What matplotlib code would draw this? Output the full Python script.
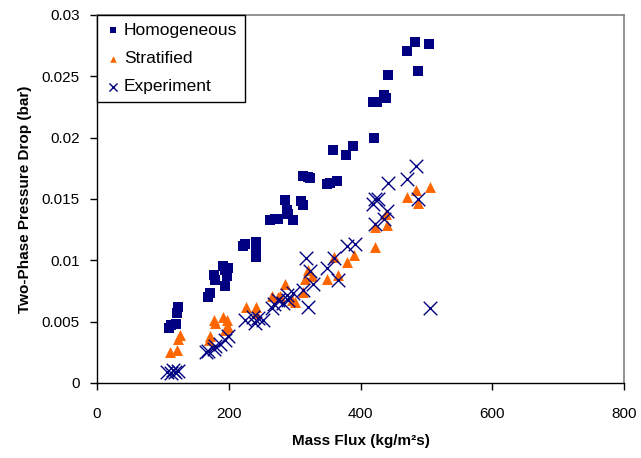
import matplotlib
matplotlib.use("Agg")
import matplotlib.pyplot as plt

plt.rcParams['font.family'] = ['Liberation Sans', 'DejaVu Sans']

# Homogeneous model
homo_x = [110, 112, 120, 122, 123,
          169, 171, 177, 179, 192, 194, 199, 197, 194,
          225, 222, 242, 241, 242,
          263, 270, 275, 285, 288, 290, 298, 310, 313,
          313, 320, 323, 349, 354, 365,
          359, 378, 389, 421,
          419, 425, 436, 439, 441,
          470, 483, 504, 487]
homo_y = [0.0045, 0.0047, 0.0048, 0.0057, 0.0062,
          0.0070, 0.0073, 0.0088, 0.0084, 0.0095, 0.0092, 0.0094, 0.0087, 0.0079,
          0.0113, 0.0112, 0.0115, 0.0103, 0.0111,
          0.0133, 0.0134, 0.0134, 0.0149, 0.0141, 0.0138, 0.0133, 0.0148, 0.0145,
          0.0169, 0.0168, 0.0167, 0.0162, 0.0163, 0.0165,
          0.0190, 0.0186, 0.0193, 0.0200,
          0.0229, 0.0229, 0.0235, 0.0232, 0.0251,
          0.0271, 0.0278, 0.0276, 0.0254]

# Stratified model
strat_x = [111, 122, 123, 126,
           170, 172, 179, 178, 192, 197, 199, 194,
           226, 242, 242,
           265, 275, 278, 285, 296, 301,
           313, 316, 321, 326,
           349, 360, 366, 379, 390,
           422, 422, 439, 440,
           471, 484, 488, 505]
strat_y = [0.0025, 0.0027, 0.0036, 0.0039,
           0.0035, 0.0038, 0.0049, 0.0051, 0.0054, 0.0051, 0.0046, 0.0043,
           0.0062, 0.0062, 0.0057,
           0.0071, 0.0070, 0.0071, 0.0081, 0.0068, 0.0066,
           0.0074, 0.0085, 0.0092, 0.0087,
           0.0085, 0.0103, 0.0088, 0.0099, 0.0104,
           0.0111, 0.0127, 0.0138, 0.0129,
           0.0152, 0.0157, 0.0147, 0.0160]

# Experiment
exp_x = [106, 112, 116, 118, 123,
         166, 169, 177, 179, 187, 194, 199,
         225, 237, 240, 245,
         252, 265, 268, 275, 283, 288, 290, 298,
         313, 317, 321, 323, 328,
         349, 360, 366, 380, 391,
         419, 422, 422, 426, 435, 440, 442,
         471, 484, 488, 506]
exp_y = [0.0009, 0.0008, 0.0011, 0.0009, 0.0010,
         0.0025, 0.0026, 0.0028, 0.0030, 0.0032, 0.0035, 0.0038,
         0.0051, 0.0054, 0.0049, 0.0053,
         0.0051, 0.0061, 0.0064, 0.0068, 0.0065, 0.0072, 0.0068, 0.0073,
         0.0076, 0.0102, 0.0062, 0.0091, 0.0081,
         0.0094, 0.0102, 0.0084, 0.0112, 0.0113,
         0.0146, 0.0150, 0.0130, 0.0150, 0.0134, 0.0140, 0.0163,
         0.0166, 0.0177, 0.0150, 0.0061]

navy = '#000080'
orange = '#FF6600'

fig = plt.figure(figsize=(6.41, 4.58), dpi=100)
ax = fig.add_axes([97/641, 1 - 383/458, (624 - 97)/641, (383 - 15)/458])

ax.scatter(homo_x, homo_y, marker='s', s=46, color=navy, linewidths=0, label='Homogeneous', zorder=3)
ax.scatter(strat_x, strat_y, marker='^', s=62, color=orange, linewidths=0, label='Stratified', zorder=3)
ax.scatter(exp_x, exp_y, marker='x', s=95, color=navy, linewidths=1.0, label='Experiment', zorder=4)

ax.set_xlim(0, 800)
ax.set_ylim(0, 0.03)
ax.set_xticks([0, 200, 400, 600, 800])
ax.set_yticks([0, 0.005, 0.01, 0.015, 0.02, 0.025, 0.03])
ax.set_yticklabels(['0', '0.005', '0.01', '0.015', '0.02', '0.025', '0.03'])

for side in ['top', 'right']:
    ax.spines[side].set_color('#808080')
    ax.spines[side].set_linewidth(1.2)
for side in ['left', 'bottom']:
    ax.spines[side].set_color('black')
    ax.spines[side].set_linewidth(1.0)

ax.tick_params(direction='out', length=5, width=1, labelsize=11)
ax.tick_params(axis='x', pad=12)
ax.tick_params(axis='y', pad=7.5)

ax.set_xlabel('Mass Flux (kg/m²s)', fontsize=11, fontweight='bold', labelpad=10)
ax.set_ylabel('Two-Phase Pressure Drop (bar)', fontsize=11, fontweight='bold', labelpad=6.5)

leg = ax.legend(loc='upper left', bbox_to_anchor=(0, 1), borderaxespad=0, fontsize=12.5,
                fancybox=False, framealpha=1, edgecolor='black', handletextpad=0.1,
                handlelength=1.0, markerscale=0.6, borderpad=0.45, labelspacing=0.75)
leg.get_frame().set_linewidth(1.0)

fig.savefig('out.png', dpi=100)
